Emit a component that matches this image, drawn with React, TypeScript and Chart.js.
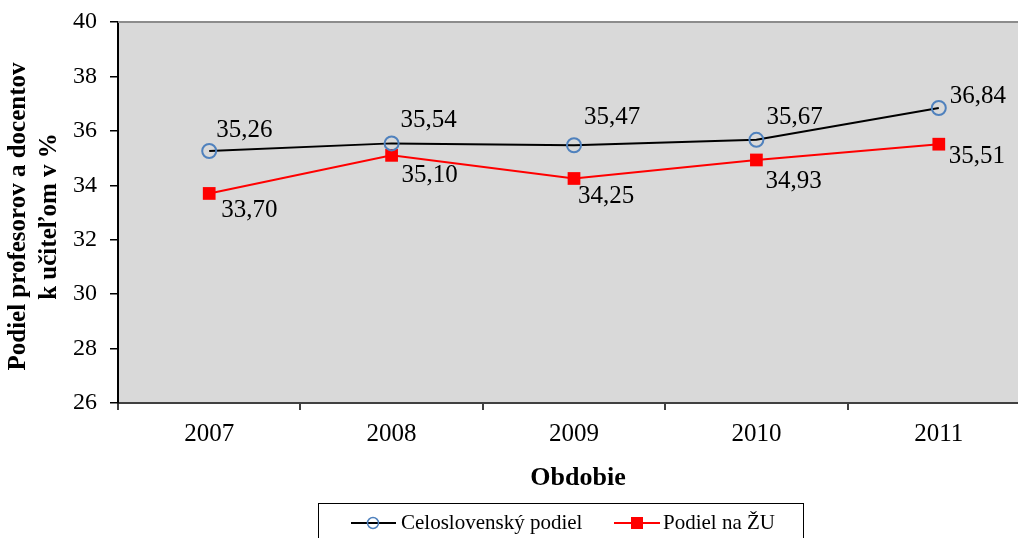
import { useEffect, useRef } from "react";
import { Chart, registerables } from "chart.js";

Chart.register(...registerables);

const categories = ["2007", "2008", "2009", "2010", "2011"];
const celoslovensky = [35.26, 35.54, 35.47, 35.67, 36.84];
const podielZU = [33.7, 35.1, 34.25, 34.93, 35.51];
const seriesNames = ["Celoslovenský podiel", "Podiel na ŽU"];
const yTitleLines = ["Podiel profesorov a docentov", "k učiteľom v %"];
const xTitle = "Obdobie";

// label placement (styling)
const blackLabelOffsets = [
  [7, -21],
  [9, -23],
  [10, -28],
  [10, -22],
  [11, -12],
];
const redLabelOffsets = [
  [12, 17],
  [10, 20],
  [4, 18],
  [9, 21],
  [10, 12],
];

const FONT = "'Liberation Serif', 'Times New Roman', serif";

const fmt = (v: number) => v.toFixed(2).replace(".", ",");

export default function App() {
  const ref = useRef<HTMLCanvasElement | null>(null);

  useEffect(() => {
    if (!ref.current) return;
    const overlay = {
      id: "overlay",
      beforeDraw(chart: any) {
        const { ctx, chartArea } = chart;
        ctx.save();
        ctx.fillStyle = "#D9D9D9";
        ctx.fillRect(chartArea.left, chartArea.top, chartArea.right - chartArea.left, chartArea.bottom - chartArea.top);
        ctx.restore();
      },
      afterDraw(chart: any) {
        const { ctx, chartArea } = chart;
        ctx.save();
        // top border
        ctx.strokeStyle = "#8C8C8C";
        ctx.lineWidth = 2;
        ctx.beginPath();
        ctx.moveTo(chartArea.left, chartArea.top);
        ctx.lineTo(chartArea.right, chartArea.top);
        ctx.stroke();

        // data labels
        ctx.fillStyle = "#000";
        ctx.font = `25px ${FONT}`;
        ctx.textAlign = "left";
        ctx.textBaseline = "middle";
        const m0 = chart.getDatasetMeta(0);
        const m1 = chart.getDatasetMeta(1);
        celoslovensky.forEach((v, i) => {
          const p = m0.data[i];
          ctx.fillText(fmt(v), p.x + blackLabelOffsets[i][0], p.y + blackLabelOffsets[i][1]);
        });
        podielZU.forEach((v, i) => {
          const p = m1.data[i];
          ctx.fillText(fmt(v), p.x + redLabelOffsets[i][0], p.y + redLabelOffsets[i][1]);
        });

        // y title
        ctx.font = `bold 25px ${FONT}`;
        ctx.textAlign = "center";
        const cy = (chartArea.top + chartArea.bottom) / 2 + 4;
        [19, 50].forEach((x, i) => {
          ctx.save();
          ctx.translate(x, cy);
          ctx.rotate(-Math.PI / 2);
          ctx.fillText(yTitleLines[i], 0, 0);
          ctx.restore();
        });

        // x title
        ctx.font = `bold 26px ${FONT}`;
        ctx.fillText(xTitle, 578, 478);

        // legend
        ctx.strokeStyle = "#000";
        ctx.lineWidth = 1;
        ctx.strokeRect(318.5, 503.5, 485, 60);
        const ly = 523;
        ctx.lineWidth = 2;
        ctx.strokeStyle = "#000";
        ctx.beginPath();
        ctx.moveTo(351, ly);
        ctx.lineTo(396, ly);
        ctx.stroke();
        ctx.strokeStyle = "#4F81BD";
        ctx.lineWidth = 1.5;
        ctx.beginPath();
        ctx.arc(373, ly, 5.5, 0, Math.PI * 2);
        ctx.stroke();
        ctx.strokeStyle = "#FF0000";
        ctx.lineWidth = 2;
        ctx.beginPath();
        ctx.moveTo(614, ly);
        ctx.lineTo(660, ly);
        ctx.stroke();
        ctx.fillStyle = "#FF0000";
        ctx.fillRect(631, ly - 6, 12, 12);
        ctx.fillStyle = "#000";
        ctx.font = `21px ${FONT}`;
        ctx.textAlign = "left";
        ctx.fillText(seriesNames[0], 401, ly);
        ctx.fillText(seriesNames[1], 663, ly);
        ctx.restore();
      },
    };

    const chart = new Chart(ref.current, {
      type: "line",
      data: {
        labels: categories,
        datasets: [
          {
            label: seriesNames[0],
            data: celoslovensky,
            borderColor: "#000000",
            borderWidth: 2,
            pointStyle: "circle",
            pointRadius: 7,
            pointBorderColor: "#4F81BD",
            pointBackgroundColor: "rgba(0,0,0,0)",
            pointBorderWidth: 2,
            tension: 0,
          },
          {
            label: seriesNames[1],
            data: podielZU,
            borderColor: "#FF0000",
            borderWidth: 2,
            pointStyle: "rect",
            pointRadius: 9,
            pointBorderColor: "#FF0000",
            pointBackgroundColor: "#FF0000",
            pointBorderWidth: 0,
            tension: 0,
          },
        ],
      },
      options: {
        animation: false,
        responsive: true,
        maintainAspectRatio: false,
        layout: { padding: { left: 0, right: 10, top: 22, bottom: 0 } },
        plugins: { legend: { display: false }, tooltip: { enabled: false } },
        scales: {
          x: {
            offset: true,
            grid: {
              offset: true,
              drawOnChartArea: false,
              drawTicks: true,
              tickLength: 7,
              color: "#404040",
              lineWidth: 2,
            },
            border: { display: true, color: "#404040", width: 2 },
            ticks: {
              color: "#000",
              font: { family: FONT, size: 25 },
              padding: 9,
              maxRotation: 0,
            },
            afterFit: (s: any) => {
              s.height = 135;
              s.paddingLeft = 0;
              s.paddingRight = 0;
            },
          },
          y: {
            min: 26,
            max: 40,
            ticks: {
              stepSize: 2,
              color: "#000",
              font: { family: FONT, size: 24 },
              padding: 13,
            },
            grid: {
              drawOnChartArea: false,
              drawTicks: true,
              tickLength: 8,
              color: "#000",
              lineWidth: 1.5,
            },
            border: { display: true, color: "#000", width: 2 },
            afterFit: (s: any) => {
              s.width = 118;
              s.paddingTop = 0;
              s.paddingBottom = 0;
            },
          },
        },
      },
      plugins: [overlay],
    });
    return () => chart.destroy();
  }, []);

  return (
    <div style={{ position: "fixed", left: 0, top: 0, width: 1018, height: 538, overflow: "hidden", background: "#fff" }}>
      <div style={{ position: "relative", width: 1040, height: 538 }}>
        <canvas ref={ref} />
      </div>
    </div>
  );
}
